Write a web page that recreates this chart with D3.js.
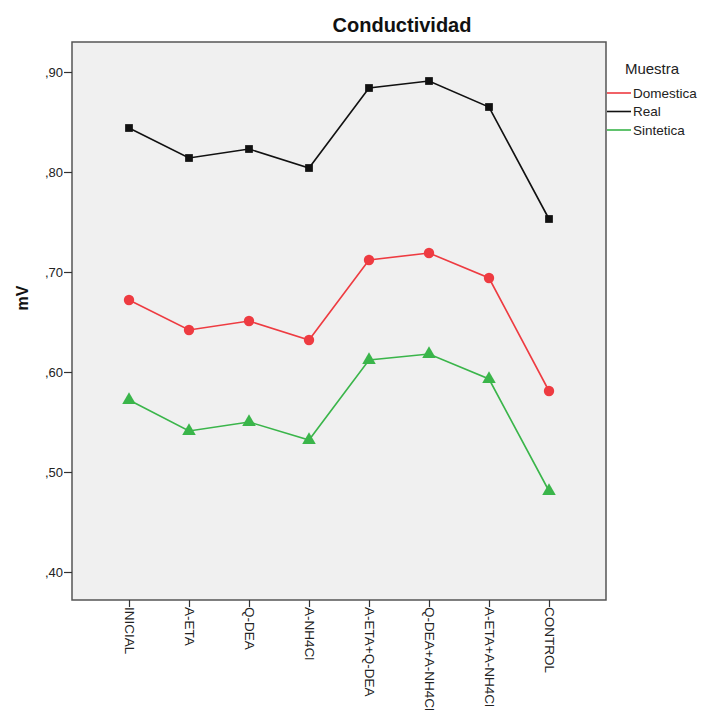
<!DOCTYPE html>
<html><head><meta charset="utf-8">
<script src="https://cdn.jsdelivr.net/npm/d3@7"></script>
<style>body{margin:0;background:#fff}svg{display:block;font-family:"Liberation Sans",Arial,sans-serif}</style>
</head><body><svg id="c" width="702" height="711"></svg>
<script>
const categories = ["INICIAL","A-ETA","Q-DEA","A-NH4Cl","A-ETA+Q-DEA","Q-DEA+A-NH4Cl","A-ETA+A-NH4Cl","CONTROL"];
const domestica = [0.672,0.642,0.651,0.632,0.712,0.719,0.694,0.581];
const real = [0.844,0.814,0.823,0.804,0.884,0.891,0.865,0.753];
const sintetica = [0.572,0.541,0.550,0.532,0.612,0.618,0.593,0.481];
const yTicks = [0.4,0.5,0.6,0.7,0.8,0.9];
const seriesNames = ["Domestica","Real","Sintetica"];
const colors = {Domestica:"#ee3b41", Real:"#111111", Sintetica:"#3ab54a"};

const series = [
  {name:"Real", values:real, shape:"square"},
  {name:"Domestica", values:domestica, shape:"circle"},
  {name:"Sintetica", values:sintetica, shape:"triangle"}
];

const svg = d3.select("#c");
const L=72, R=606, T=42, B=600;
const x = d3.scalePoint().domain(categories).range([L,R]).padding(0.95);
const y = d3.scaleLinear().domain([0.372,0.93]).range([B,T]);

svg.append("rect").attr("x",L).attr("y",T).attr("width",R-L).attr("height",B-T)
  .attr("fill","#f0f0f0").attr("stroke","#555").attr("stroke-width",1.5);

const yAxis = svg.append("g").attr("transform",`translate(${L},0)`)
  .call(d3.axisLeft(y).tickValues(yTicks).tickSize(8).tickPadding(1)
    .tickFormat(d=>","+d3.format(".2f")(d).split(".")[1]));
yAxis.select(".domain").remove();
yAxis.selectAll("line").attr("stroke","#333").attr("stroke-width",1.2);
yAxis.selectAll("text").attr("font-size",13).attr("fill","#222").attr("font-family","Liberation Sans, Arial");

const xAxis = svg.append("g").attr("transform",`translate(0,${B})`)
  .call(d3.axisBottom(x).tickSize(7).tickPadding(2));
xAxis.select(".domain").remove();
xAxis.selectAll("line").attr("stroke","#333").attr("stroke-width",1.2);
xAxis.selectAll("text").attr("font-size",13.5).attr("fill","#222").attr("font-family","Liberation Sans, Arial")
  .attr("text-anchor","start").attr("transform","rotate(90)")
  .attr("x",7).attr("y",0).attr("dy","0.35em");

const line = d3.line().x((d,i)=>x(categories[i])).y(d=>y(d));
series.forEach(s=>{
  const g = svg.append("g");
  g.append("path").datum(s.values).attr("d",line).attr("fill","none")
    .attr("stroke",colors[s.name]).attr("stroke-width",1.6);
  const sym = s.shape==="square"? d3.symbolSquare : s.shape==="circle"? d3.symbolCircle : d3.symbolTriangle;
  const size = s.shape==="square"? 60 : s.shape==="circle"? 85 : 80;
  g.selectAll("path.m").data(s.values).enter().append("path").attr("class","m")
    .attr("d",d3.symbol().type(sym).size(size))
    .attr("transform",(d,i)=>`translate(${x(categories[i])},${y(d)})`)
    .attr("fill",colors[s.name]);
});

svg.append("text").attr("x",402).attr("y",32).attr("text-anchor","middle")
  .attr("font-size",20).attr("font-weight","bold").attr("fill","#111").text("Conductividad");

svg.append("text").attr("transform","translate(28,298) rotate(-90)").attr("text-anchor","middle")
  .attr("font-size",16).attr("font-weight","bold").attr("fill","#111").text("mV");

const lg = svg.append("g");
lg.append("text").attr("x",652).attr("y",74).attr("text-anchor","middle")
  .attr("font-size",15).attr("fill","#222").text("Muestra");
seriesNames.forEach((n,i)=>{
  const yy = 93 + i*18.5;
  lg.append("line").attr("x1",607).attr("x2",631).attr("y1",yy).attr("y2",yy)
    .attr("stroke",colors[n]).attr("stroke-width",1.6);
  lg.append("text").attr("x",633).attr("y",yy).attr("dy","0.35em")
    .attr("font-size",13.5).attr("fill","#222").text(n);
});
</script></body></html>
